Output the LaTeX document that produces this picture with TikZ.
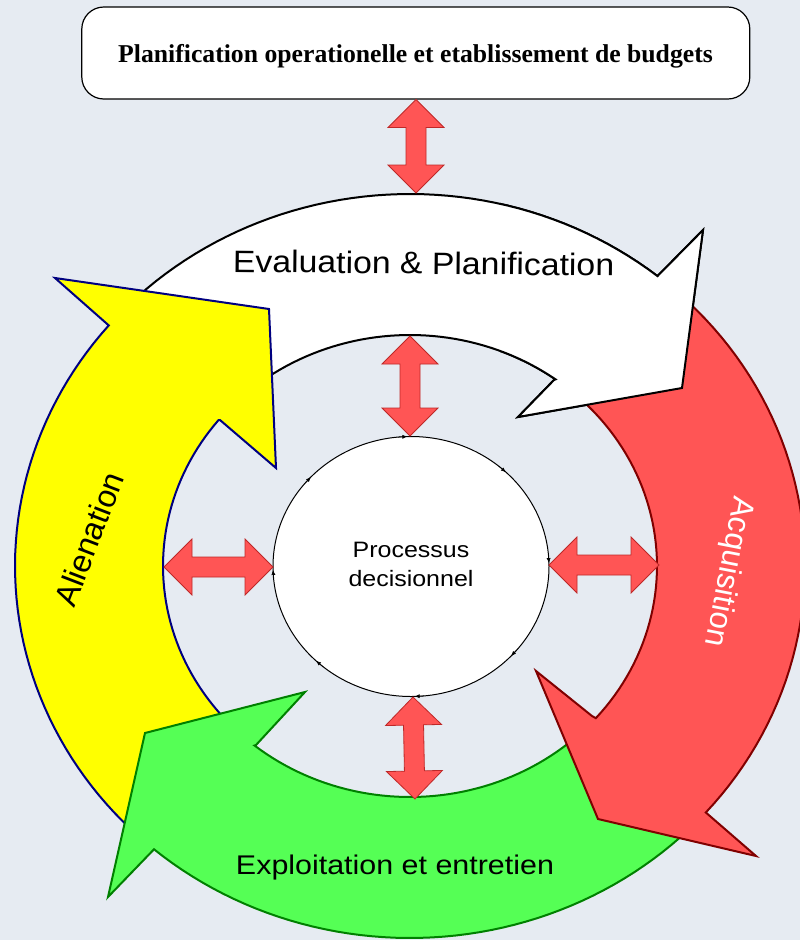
\documentclass[tikz,border=0pt]{standalone}
\usepackage{fontspec}
\setmainfont{Liberation Sans}
\newfontfamily\tnr{Liberation Serif}
\usetikzlibrary{arrows.meta,shapes.geometric}
\definecolor{bgc}{RGB}{230,235,242}
\definecolor{redf}{RGB}{255,85,85}
\definecolor{redd}{RGB}{128,0,0}
\definecolor{grnf}{RGB}{85,255,85}
\definecolor{grnd}{RGB}{0,128,0}
\definecolor{yelf}{RGB}{255,255,0}
\definecolor{navyc}{RGB}{0,0,128}
\definecolor{darr}{RGB}{190,40,40}
\newcommand\hs[2]{\scalebox{#1}[1]{#2}}
\newcommand\DArrow[4]{% name, start, angle, length
  \begin{scope}[shift={#2},rotate=#3]
    \draw[dblarrow] (0,0) coordinate (#1-a) -- (28,28) -- (28,10) -- ({#4-28},10) -- ({#4-28},28)
      -- (#4,0) coordinate (#1-b) -- ({#4-28},-28) -- ({#4-28},-10) -- (28,-10) -- (28,-28) -- cycle;
  \end{scope}}
\tikzset{
  bigarrow/.style={line width=2pt, line join=miter},
  warrow/.style={bigarrow, draw=black, fill=white},
  rarrow/.style={bigarrow, draw=redd, fill=redf},
  garrow/.style={bigarrow, draw=grnd, fill=grnf},
  yarrow/.style={bigarrow, draw=navyc, fill=yelf},
  dblarrow/.style={draw=darr, fill=redf, line width=0.8pt, line join=miter},
  lbl/.style={inner sep=0pt, font=\fontsize{31}{36}\selectfont},
  tickarrow/.style={-{Latex[length=5pt,width=4pt]}, line width=0.6pt},
}
\newcommand\WhitePath{plot[domain=137:51.2, samples=50] ({410+395*cos(\x)},{566-372*sin(\x)})
    -- (703,230) -- (682,388) -- (518,417) -- (554,380)
    -- plot[domain=53.9:137, samples=50] ({410+247*cos(\x)},{566-231*sin(\x)}) -- cycle}
\begin{document}
\begin{tikzpicture}[x=1pt, y=-1pt]
\useasboundingbox (0,0) rectangle (800,940);
\fill[bgc] (0,0) rectangle (800,940);

% top box
\node[draw, fill=white, rounded corners=22pt, minimum width=668pt, minimum height=92pt, line width=1.2pt] (budget) at (415.8,53) {};
\node[anchor=base, inner sep=0pt] (budgettxt) at (415.5,62) {\tnr\bfseries\fontsize{25.7}{30}\selectfont Planification operationelle et etablissement de budgets};

% ring arrows (each head drawn over the next arrow's tail)
\draw[warrow] \WhitePath;
\draw[yarrow] plot[domain=225:139.7, samples=50] ({410+395*cos(\x)},{566-372*sin(\x)})
    -- (55,278) -- (269,309) -- (276,468) -- (220,420)
    -- plot[domain=140.8:225, samples=50] ({410+247*cos(\x)},{566-231*sin(\x)}) -- cycle;
\draw[garrow] plot[domain=-45:-130.4, samples=50] ({410+395*cos(\x)},{566-372*sin(\x)})
    -- (108,897) -- (145,733) -- (305,692) -- (256,745)
    -- plot[domain=-129:-45, samples=50] ({410+247*cos(\x)},{566-231*sin(\x)}) -- cycle;
\draw[rarrow] plot[domain=47:-41.5, samples=50] ({410+395*cos(\x)},{566-372*sin(\x)})
    -- (756,856) -- (598,819) -- (536,671) -- (592,716)
    -- plot[domain=-41.2:47, samples=50] ({410+247*cos(\x)},{566-231*sin(\x)}) -- cycle;
\begin{scope}
  \clip (500,140) rectangle (800,440);
  \draw[warrow] \WhitePath;
\end{scope}

% labels on ring
\node[lbl, anchor=base, rotate=-0.6] (evtxt) at (423.5,274) {\hs{1.09}{Evaluation \& Planification}};
\node[lbl, anchor=base, font=\fontsize{27}{32}\selectfont] (extxt) at (395,874) {\hs{1.127}{Exploitation et entretien}};
\node[lbl, font=\fontsize{32}{36}\selectfont, rotate=69] (altxt) at (89,539) {Alienation};
\node[lbl, text=white, font=\fontsize{31.5}{36}\selectfont, rotate=-101] (actxt) at (728,571.5) {Acquisition};

% central process
\node[ellipse, draw, fill=white, minimum width=276pt, minimum height=260pt, inner sep=0pt, line width=1pt] (proc) at (411,566.5)
  {\hs{1.12}{\fontsize{22.3}{29}\selectfont\begin{tabular}{@{}c@{}}Processus\\decisionnel\end{tabular}}};
\foreach \a in {91.5,46.5,1.5,-43.5,-88.5,-133.5,-178.5,136.5}
  \draw[tickarrow] ({411+138*cos(\a+4)},{566.5-130*sin(\a+4)}) -- ({411+138*cos(\a)},{566.5-130*sin(\a)});

% double arrows
\DArrow{top}{(416,99.5)}{-90}{93.5}
\DArrow{itop}{(410,336)}{-90}{100}
\DArrow{left}{(164,567)}{0}{109}
\DArrow{right}{(549,565)}{0}{110}
\DArrow{bot}{(413,697)}{-88.9}{102}
\end{tikzpicture}
\end{document}
